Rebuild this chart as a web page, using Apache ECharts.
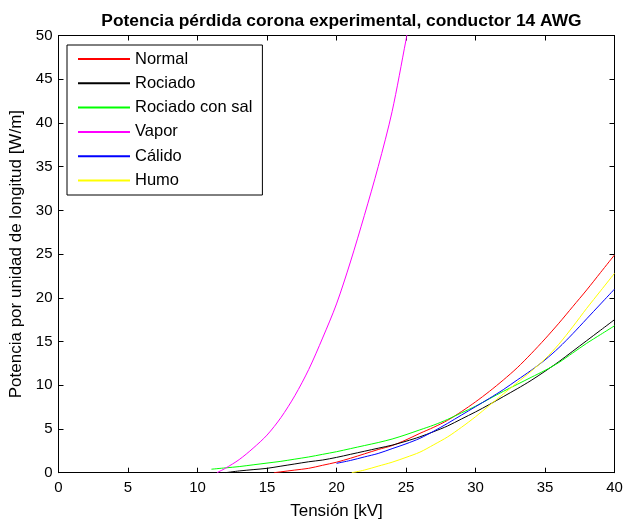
<!DOCTYPE html>
<html>
<head>
<meta charset="utf-8">
<script src="https://cdn.jsdelivr.net/npm/echarts@6/dist/echarts.min.js"></script>
<style>
  html, body { margin: 0; padding: 0; background: #fff; }
  #chart { width: 624px; height: 525px; }
</style>
</head>
<body>
<div id="chart"></div>
<script>
// Corona loss per unit length vs. voltage, 14 AWG conductor, six surface conditions.
const xTicks = [0, 5, 10, 15, 20, 25, 30, 35, 40];
const yTicks = [0, 5, 10, 15, 20, 25, 30, 35, 40, 45, 50];

const normalKV   = [15.5, 16, 17, 18, 19, 20, 21, 22, 23, 24, 25, 26, 27, 28, 29, 30, 31, 32, 33, 34, 35, 36, 37, 38, 39, 40];
const normalW    = [0, 0.1, 0.3, 0.5, 0.85, 1.2, 1.65, 2.15, 2.65, 3.1, 3.75, 4.5, 5.2, 6.0, 7.0, 8.1, 9.3, 10.6, 12.0, 13.6, 15.3, 17.1, 19.0, 20.9, 22.9, 24.9];

const rociadoKV  = [12, 13, 14, 15, 16, 17, 18, 19, 20, 21, 22, 23, 24, 25, 26, 27, 28, 29, 30, 31, 32, 33, 34, 35, 36, 37, 38, 39, 40];
const rociadoW   = [0, 0.2, 0.35, 0.5, 0.75, 1.0, 1.25, 1.45, 1.75, 2.1, 2.45, 2.8, 3.15, 3.6, 4.1, 4.7, 5.35, 6.15, 6.95, 7.8, 8.7, 9.6, 10.55, 11.6, 12.7, 13.9, 15.1, 16.3, 17.5];

const salKV      = [11, 12, 13, 14, 15, 16, 17, 18, 19, 20, 21, 22, 23, 24, 25, 26, 27, 28, 29, 30, 31, 32, 33, 34, 35, 36, 37, 38, 39, 40];
const salW       = [0.4, 0.55, 0.7, 0.9, 1.1, 1.3, 1.55, 1.8, 2.1, 2.4, 2.75, 3.1, 3.45, 3.85, 4.35, 4.9, 5.45, 6.1, 6.85, 7.6, 8.45, 9.3, 10.1, 10.9, 11.7, 12.6, 13.7, 14.8, 15.8, 16.8];

const vaporKV    = [11.4, 12, 13, 14, 15, 16, 17, 18, 19, 20, 21, 22, 23, 24, 25, 25.1];
const vaporW     = [0, 0.5, 1.5, 2.8, 4.3, 6.3, 8.8, 11.8, 15.4, 19.3, 24.1, 29.4, 35.0, 41.3, 49.5, 50.4];

const calidoKV   = [20, 21, 22, 23, 24, 25, 26, 27, 28, 29, 30, 31, 32, 33, 34, 35, 36, 37, 38, 39, 40];
const calidoW    = [1.07, 1.4, 1.8, 2.2, 2.75, 3.3, 3.93, 4.75, 5.65, 6.6, 7.55, 8.5, 9.5, 10.6, 11.7, 12.9, 14.3, 15.9, 17.6, 19.3, 21.0];

const humoKV     = [21.1, 22, 23, 24, 25, 26, 27, 28, 29, 30, 31, 32, 33, 34, 35, 36, 37, 38, 39, 40];
const humoW      = [0, 0.3, 0.75, 1.2, 1.75, 2.35, 3.2, 4.1, 5.2, 6.4, 7.7, 9.0, 10.3, 11.6, 13.0, 14.7, 16.7, 18.8, 20.8, 22.8];

const seriesDefs = [
  { name: 'Normal',          kv: normalKV,  w: normalW,  color: '#ff0000' },
  { name: 'Rociado',         kv: rociadoKV, w: rociadoW, color: '#000000' },
  { name: 'Rociado con sal', kv: salKV,     w: salW,     color: '#00ff00' },
  { name: 'Vapor',           kv: vaporKV,   w: vaporW,   color: '#ff00ff' },
  { name: 'Cálido',          kv: calidoKV,  w: calidoW,  color: '#0000ff' },
  { name: 'Humo',            kv: humoKV,    w: humoW,    color: '#ffff00' }
];

const FONT = 'Liberation Sans, Arial, sans-serif';
const grid = { left: 58.5, right: 9.5, top: 35.5, bottom: 52.3 };

function valueAxis(opts) {
  return Object.assign({
    type: 'value',
    axisLine: { show: true, onZero: false, lineStyle: { color: '#000', width: 1 } },
    axisTick: { show: true, inside: true, length: 5, lineStyle: { color: '#000', width: 1 } },
    splitLine: { show: false },
    axisLabel: { show: false }
  }, opts);
}

const chart = echarts.init(document.getElementById('chart'), null, { renderer: 'canvas' });

chart.setOption({
  animation: false,
  backgroundColor: '#fff',
  textStyle: { fontFamily: FONT },
  title: {
    text: 'Potencia pérdida corona experimental, conductor 14 AWG',
    left: (grid.left + 624 - grid.right) / 2,
    textAlign: 'center',
    top: 8,
    textStyle: { fontFamily: FONT, fontSize: 17.4, fontWeight: 'bold', color: '#000' }
  },
  legend: {
    orient: 'vertical',
    left: 67,
    top: 45,
    padding: [5.5, 10, 6, 10],
    itemWidth: 52,
    itemHeight: 14,
    itemGap: 7.3,
    itemStyle: { opacity: 0 },
    borderColor: '#000',
    borderWidth: 1,
    backgroundColor: '#fff',
    textStyle: { fontFamily: FONT, fontSize: 16.5, color: '#000' },
    data: seriesDefs.map(s => s.name)
  },
  grid: Object.assign({ containLabel: false, outerBoundsMode: 'none' }, grid),
  xAxis: [
    valueAxis({
      position: 'bottom', min: 0, max: 40, interval: 5,
      name: 'Tensión [kV]', nameLocation: 'middle', nameGap: 30,
      nameTextStyle: { fontFamily: FONT, fontSize: 17, color: '#000' },
      axisLabel: { show: true, margin: 8, fontFamily: FONT, fontSize: 15, color: '#000',
        formatter: v => xTicks.includes(v) ? String(v) : '' }
    }),
    valueAxis({ position: 'top', min: 0, max: 40, interval: 5 })
  ],
  yAxis: [
    valueAxis({
      position: 'left', min: 0, max: 50, interval: 5,
      name: 'Potencia por unidad de longitud [W/m]', nameLocation: 'middle', nameGap: 33,
      nameTextStyle: { fontFamily: FONT, fontSize: 17, color: '#000' },
      axisLabel: { show: true, margin: 6, fontFamily: FONT, fontSize: 15, color: '#000',
        formatter: v => yTicks.includes(v) ? String(v) : '' }
    }),
    valueAxis({ position: 'right', min: 0, max: 50, interval: 5 })
  ],
  series: seriesDefs.map(s => ({
    name: s.name,
    type: 'line',
    xAxisIndex: 0,
    yAxisIndex: 0,
    symbol: 'none',
    smooth: 0.3,
    clip: true,
    color: s.color,
    itemStyle: { color: s.color },
    lineStyle: { color: s.color, width: 1 },
    data: s.kv.map((x, i) => [x, s.w[i]])
  }))
});
</script>
</body>
</html>
